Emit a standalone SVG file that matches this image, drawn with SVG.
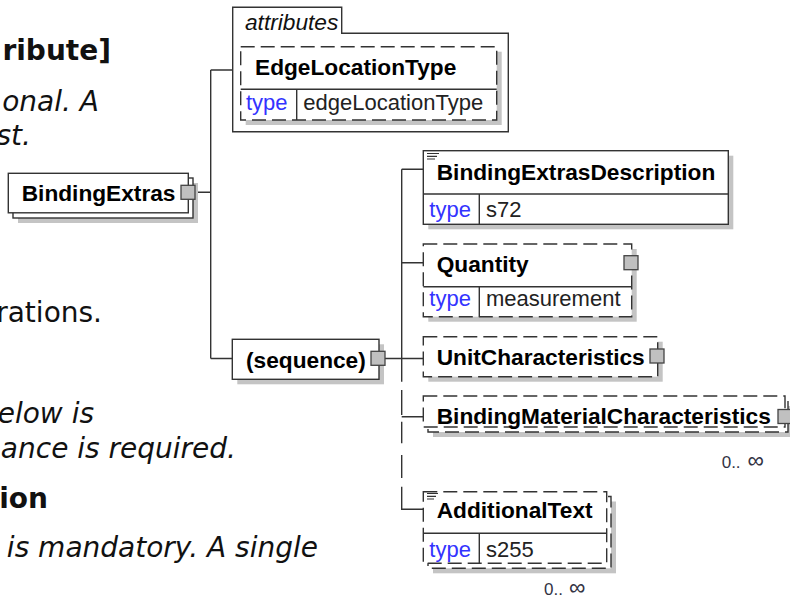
<svg xmlns="http://www.w3.org/2000/svg" width="790" height="598" viewBox="0 0 790 598">
<style>
.ln{stroke:#333;stroke-width:1.4;fill:none}
.box{fill:#fff;stroke:#333;stroke-width:1.4}
.dbox{fill:#fff;stroke:#333;stroke-width:1.4;stroke-dasharray:14 6}
.sh{fill:#c4c4c4}
.btn{fill:#c0c0c0;stroke:#444;stroke-width:1.3}
.lbl{font-family:"Liberation Sans",Arial,sans-serif;font-weight:bold;font-size:22.7px;fill:#000}
.ty{font-family:"Liberation Sans",Arial,sans-serif;font-size:22px;fill:#3333ff}
.tv{font-family:"Liberation Sans",Arial,sans-serif;font-size:22px;fill:#222}
.att{font-family:"Liberation Sans",Arial,sans-serif;font-style:italic;font-size:22.7px;fill:#111}
.occ{font-family:"Liberation Sans",Arial,sans-serif;font-size:17px;fill:#334}
.inf{font-size:23px}
.doc{font-family:"DejaVu Sans",Verdana,sans-serif;font-size:28px;fill:#111}
.it{font-style:italic}
.bd{font-weight:bold}
.ic{stroke:#333;stroke-width:1.2}
</style>
<rect width="790" height="598" fill="#fff"/>

<g id="doc-text">
<text class="doc bd" x="111" y="60" text-anchor="end">ribute]</text>
<text class="doc it" x="99" y="110.5" text-anchor="end">onal. A</text>
<text class="doc it" x="31" y="145" text-anchor="end">st.</text>
<text class="doc" x="102" y="321.5" text-anchor="end">rations.</text>
<text class="doc it" x="94" y="423" text-anchor="end">elow is</text>
<text class="doc it" x="236" y="458" text-anchor="end">ance is required.</text>
<text class="doc bd" x="48" y="508" text-anchor="end">ion</text>
<text class="doc it" x="318" y="556.5" text-anchor="end">n is mandatory. A single</text>
</g>

<g id="connectors">
<path class="ln" d="M194 192.3H210.7M210.7 70V358.5M210.7 70H232.7M210.7 358.5H232.3"/>
<path class="ln" d="M385 358.5H423.3M401.7 169.3V381.7M401.7 169.3H423.3M401.7 262.7H423.3M401.7 416.7H423.3"/>
<path class="ln" d="M401.7 390V415M401.7 421.7V443.3M401.7 455V478M401.7 486.7V509.3H423.3"/>
</g>

<g id="BindingExtras">
<rect class="sh" x="18" y="183" width="180" height="40"/>
<rect class="box" x="13" y="178" width="180" height="40"/>
<rect class="box" x="8.3" y="173.3" width="180" height="39.5"/>
<text class="lbl" x="21.7" y="201">BindingExtras</text>
<rect class="btn" x="181" y="185.3" width="14" height="14"/>
</g>

<g id="attributes">
<path class="box" d="M232.7 131.7V7.3H341.7V33.3H508.3V131.7Z"/>
<text class="att" x="245" y="29.5">attributes</text>
</g>

<g id="EdgeLocationType">
<rect class="sh" x="245.7" y="51.7" width="256" height="73.3"/>
<rect class="dbox" x="240.7" y="46.7" width="256" height="73.3"/>
<path class="ln" d="M240.7 89.3H496.7M296.7 89.3V120"/>
<text class="lbl" x="255" y="75">EdgeLocationType</text>
<text class="ty" x="246" y="110">type</text>
<text class="tv" x="303.3" y="110">edgeLocationType</text>
</g>

<g id="sequence">
<rect class="sh" x="237.3" y="344.3" width="146.7" height="40"/>
<rect class="box" x="232.3" y="339.3" width="146.7" height="40"/>
<text class="lbl" x="246" y="368.3">(sequence)</text>
<rect class="btn" x="371" y="351.3" width="14" height="14"/>
</g>

<g id="BindingExtrasDescription">
<rect class="sh" x="428.3" y="155.7" width="305" height="73.6"/>
<rect class="box" x="423.3" y="150.7" width="305" height="73.6"/>
<path class="ln" d="M423.3 194H728.3M479.3 194V224.3"/>
<path class="ic" d="M427 153.5H439M427 156.3H437M427 159H435"/>
<text class="lbl" x="436.7" y="180">BindingExtrasDescription</text>
<text class="ty" x="429.3" y="217.3">type</text>
<text class="tv" x="486" y="217.3">s72</text>
</g>

<g id="Quantity">
<rect class="sh" x="428.3" y="249" width="208.4" height="72.7"/>
<rect class="dbox" x="423.3" y="244" width="208.4" height="72.7"/>
<path class="ln" d="M423.3 286.7H631.7M479.3 286.7V316.7"/>
<text class="lbl" x="436.7" y="271.7">Quantity</text>
<text class="ty" x="429.3" y="306">type</text>
<text class="tv" x="486" y="306">measurement</text>
<rect class="btn" x="624" y="255.7" width="14" height="14"/>
</g>

<g id="UnitCharacteristics">
<rect class="sh" x="428.3" y="341.7" width="234.4" height="40"/>
<rect class="dbox" x="423.3" y="336.7" width="234.4" height="40"/>
<text class="lbl" x="436.7" y="365">UnitCharacteristics</text>
<rect class="btn" x="650" y="349" width="14" height="14"/>
</g>

<g id="BindingMaterialCharacteristics">
<rect class="sh" x="433" y="406" width="360" height="31"/>
<rect class="dbox" x="428" y="401" width="360" height="31"/>
<rect class="dbox" x="423.3" y="396" width="361.7" height="31"/>
<text class="lbl" x="436.7" y="424">BindingMaterialCharacteristics</text>
<rect class="btn" x="778" y="409.5" width="14" height="14"/>
<text class="occ" x="721.7" y="468.3">0..<tspan class="inf" dx="7">∞</tspan></text>
</g>

<g id="AdditionalText">
<rect class="sh" x="433" y="501.5" width="183" height="71.8"/>
<rect class="dbox" x="428" y="496.5" width="183" height="71.8"/>
<rect class="dbox" x="423.3" y="491.7" width="183.4" height="71.6"/>
<path class="ln" d="M423.3 533.3H606.7M479.3 533.3V563.3"/>
<path class="ic" d="M427 493.5H438M427 496.3H436M427 499H434"/>
<text class="lbl" x="436.7" y="518.3">AdditionalText</text>
<text class="ty" x="429.3" y="556.7">type</text>
<text class="tv" x="486" y="556.7">s255</text>
<text class="occ" x="544" y="595">0..<tspan class="inf" dx="6">∞</tspan></text>
</g>
</svg>
